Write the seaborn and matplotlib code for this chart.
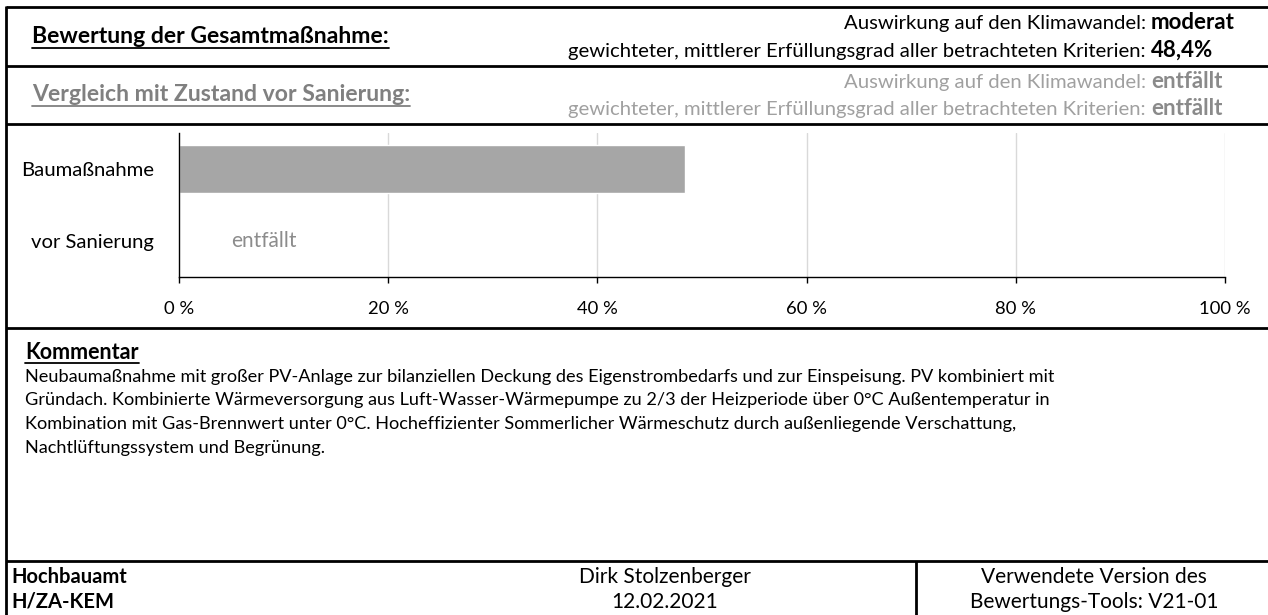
import numpy as np
import pandas as pd
import matplotlib
matplotlib.use("Agg")
import matplotlib.pyplot as plt
from matplotlib.lines import Line2D
import seaborn as sns

# ---------------- data ----------------
categories = ["Baumaßnahme", "vor Sanierung"]
values = [48.4, np.nan]            # vor Sanierung: entfällt
notes = ["", "entfällt"]
x_ticks = [0, 20, 40, 60, 80, 100]

header_labels = ["Auswirkung auf den Klimawandel:",
                 "gewichteter, mittlerer Erfüllungsgrad aller betrachteten Kriterien:"]
header_values_1 = ["moderat", "48,4%"]
header_values_2 = ["entfällt", "entfällt"]

comment_lines = [
    "Neubaumaßnahme mit großer PV-Anlage zur bilanziellen Deckung des Eigenstrombedarfs und zur Einspeisung. PV kombiniert mit",
    "Gründach. Kombinierte Wärmeversorgung aus Luft-Wasser-Wärmepumpe zu 2/3 der Heizperiode über 0°C Außentemperatur in",
    "Kombination mit Gas-Brennwert unter 0°C. Hocheffizienter Sommerlicher Wärmeschutz durch außenliegende Verschattung,",
    "Nachtlüftungssystem und Begrünung.",
]
footer_left = ["Hochbauamt", "H/ZA-KEM"]
footer_mid = ["Dirk Stolzenberger", "12.02.2021"]
footer_right = ["Verwendete Version des", "Bewertungs-Tools: V21-01"]

# ---------------- style ----------------
sns.set_theme(style="white")
plt.rcParams["font.family"] = ["Lato", "DejaVu Sans"]

W, H = 1268, 615
fig = plt.figure(figsize=(W / 100, H / 100), dpi=100)
fig.patch.set_facecolor("white")

def fx(x):
    return x / W

def fy(y):
    return 1 - y / H

def hline(y, x0=6, x1=W, lw=2.0, color="black"):
    fig.add_artist(Line2D([fx(x0), fx(x1)], [fy(y), fy(y)], transform=fig.transFigure,
                          color=color, lw=lw, solid_capstyle="butt"))

def vline(x, y0, y1, lw=2.0, color="black"):
    fig.add_artist(Line2D([fx(x), fx(x)], [fy(y0), fy(y1)], transform=fig.transFigure,
                          color=color, lw=lw, solid_capstyle="butt"))

def ftext(x, y, s, **kw):
    kw.setdefault("va", "baseline")
    return fig.text(fx(x), fy(y), s, **kw)

# ---------------- frame ----------------
for y in [7, 66, 124, 328, 561]:
    hline(y)
vline(6, 6, H)
vline(916, 561, H)

# ---------------- header ----------------
t_title = ftext(32, 43, "Bewertung der Gesamtmaßnahme:", fontsize=16.6, fontweight="bold", color="black")
t_cmp = ftext(32, 101, "Vergleich mit Zustand vor Sanierung:", fontsize=16.6, fontweight="bold", color="#808080")

for lab, val, yb in zip(header_labels, header_values_1, [29, 57]):
    ftext(1146, yb, lab, fontsize=14.6, ha="right", color="black")
    ftext(1151, yb, val, fontsize=16, ha="left", fontweight="bold", color="black")
for lab, val, yb in zip(header_labels, header_values_2, [88, 115]):
    ftext(1146, yb, lab, fontsize=14.6, ha="right", color="#a0a0a0")
    ftext(1151, yb, val, fontsize=16, ha="left", fontweight="bold", color="#8a8a8a")

# ---------------- chart ----------------
ax = fig.add_axes([fx(179), fy(277), fx(1225) - fx(179), (277 - 133) / H])
df = pd.DataFrame({"Kategorie": categories, "Wert": values})
sns.barplot(data=df.dropna(), x="Wert", y="Kategorie", order=categories, orient="h",
            color="#a6a6a6", width=0.667, saturation=1, ax=ax)
ax.set_xlim(x_ticks[0], x_ticks[-1])
ax.set_ylim(len(categories) - 0.5, -0.5)
ax.set_xticks(x_ticks)
ax.set_xticklabels([f"{v} %" for v in x_ticks])
ax.set_xlabel("")
ax.set_ylabel("")
for v in x_ticks[1:]:
    ax.axvline(v, color="#d9d9d9", lw=1.0, zorder=0)
for s in ["top", "right"]:
    ax.spines[s].set_visible(False)
for s in ["left", "bottom"]:
    ax.spines[s].set_color("black")
    ax.spines[s].set_linewidth(1.0)
ax.tick_params(axis="x", which="both", bottom=True, length=4.5, width=1.0, color="black",
               direction="out", pad=13, labelsize=13.3, labelcolor="black")
ax.tick_params(axis="y", length=0, pad=18, labelsize=14.6, labelcolor="black")
for i, note in enumerate(notes):
    if note:
        ax.text(8.15, i, note, ha="center", va="center", fontsize=15, color="#8c8c8c")
ax.set_facecolor("white")

# ---------------- comment ----------------
t_kom = ftext(25, 359, "Kommentar", fontsize=15.5, fontweight="bold", color="black")
for i, line in enumerate(comment_lines):
    ftext(25, 382 + 23.5 * i, line, fontsize=13.1, color="black")

# ---------------- footer ----------------
ftext(11, 583, footer_left[0], fontsize=14.5, fontweight="bold", color="black")
ftext(11, 608, footer_left[1], fontsize=14.5, fontweight="bold", color="black")
ftext(665, 583, footer_mid[0], fontsize=15, ha="center", color="black")
ftext(665, 608, footer_mid[1], fontsize=15, ha="center", color="black")
ftext(1094, 583, footer_right[0], fontsize=15, ha="center", color="black")
ftext(1094, 608, footer_right[1], fontsize=15, ha="center", color="black")

# ---------------- underlines ----------------
fig.canvas.draw()
renderer = fig.canvas.get_renderer()
for t, y, col in [(t_title, 48, "black"), (t_cmp, 106, "#808080"), (t_kom, 363, "black")]:
    bb = t.get_window_extent(renderer)
    fig.add_artist(Line2D([bb.x0 / W, bb.x1 / W], [fy(y), fy(y)], transform=fig.transFigure,
                          color=col, lw=1.3))

fig.savefig("out.png", dpi=100, facecolor="white")
